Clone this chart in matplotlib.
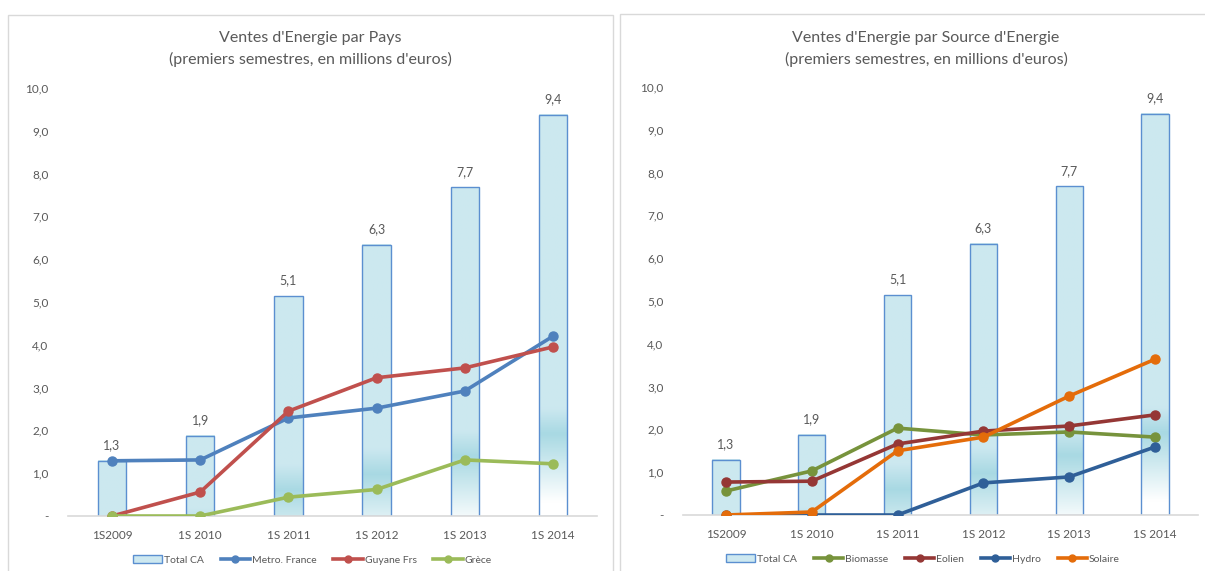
import numpy as np
import matplotlib.pyplot as plt
from matplotlib.patches import Rectangle
from matplotlib.lines import Line2D
from matplotlib.patches import Patch

plt.rcParams['font.family'] = ['Lato', 'DejaVu Sans']

# --- données ---
semestres = ['1S2009', '1S 2010', '1S 2011', '1S 2012', '1S 2013', '1S 2014']
total_ca = [1.29, 1.88, 5.14, 6.34, 7.68, 9.37]

# par pays
metro_france = [1.29, 1.31, 2.29, 2.52, 2.92, 4.20]
guyane_frs = [0.00, 0.56, 2.45, 3.23, 3.46, 3.95]
grece = [0.00, 0.00, 0.44, 0.62, 1.31, 1.22]

# par source d'énergie
biomasse = [0.56, 1.03, 2.03, 1.87, 1.94, 1.82]
eolien = [0.77, 0.79, 1.66, 1.96, 2.08, 2.34]
hydro = [0.00, 0.00, 0.00, 0.75, 0.89, 1.59]
solaire = [0.00, 0.07, 1.50, 1.82, 2.78, 3.64]

gris_texte = '#595959'
bleu_clair = np.array([0.80, 0.91, 0.94])
bleu_fonce = np.array([0.66, 0.85, 0.89])
blanc = np.array([1.0, 1.0, 1.0])


def barre_degrade(ax, x, h, w=0.32):
    # dégradé vertical façon Excel: bande plus foncée vers le bas, blanc au pied
    n = 200
    ys = np.linspace(0, h, n)
    b = 0.31 * h - 1.0
    cols = np.zeros((n, 3))
    for i, y in enumerate(ys):
        if y >= b:
            t = min((y - b) / 0.6, 1.0)
            cols[i] = bleu_fonce * (1 - t) + bleu_clair * t
        else:
            t = min((b - y) / 1.6, 1.0)
            cols[i] = bleu_fonce * (1 - t) + blanc * t
    img = cols[:, None, :]
    ax.imshow(img, extent=(x - w / 2, x + w / 2, 0, h), origin='lower',
              aspect='auto', zorder=1, interpolation='bilinear')
    ax.add_patch(Rectangle((x - w / 2, 0), w, h, facecolor='none',
                           edgecolor='#5b8fd0', lw=1.0, zorder=2))


def graphique(ax, titre, series, x_titre, x_legende):
    x = np.arange(len(semestres))
    for i, h in enumerate(total_ca):
        barre_degrade(ax, x[i], h)
        ax.text(x[i], h + 0.22, f'{h:.1f}'.replace('.', ','), ha='center',
                va='bottom', fontsize=9, color=gris_texte)
    handles = [Patch(facecolor='#cde8f0', edgecolor='#5b8fd0', label='Total CA')]
    for nom, vals, coul in series:
        ax.plot(x, vals, color=coul, lw=2.6, marker='o', ms=6.5, zorder=3)
        handles.append(Line2D([0], [0], color=coul, lw=2.6, marker='o', ms=5, label=nom))
    ax.set_xlim(-0.5, len(semestres) - 0.5)
    ax.set_ylim(0, 10)
    ax.set_xticks(x)
    ax.set_xticklabels(semestres)
    ax.set_yticks(np.arange(0, 11))
    ax.set_yticklabels(['-'] + [f'{v},0' for v in range(1, 11)])
    ax.tick_params(length=0, labelsize=8.5, colors=gris_texte, pad=10)
    ax.tick_params(axis='y', pad=14)
    for s in ['top', 'right', 'left']:
        ax.spines[s].set_visible(False)
    ax.spines['bottom'].set_color('#d9d9d9')
    ax.spines['bottom'].set_linewidth(1.2)
    fig.text(x_titre, 0.945, titre, ha='center', va='top', fontsize=11.5,
             color=gris_texte, linespacing=1.55)
    leg = ax.legend(handles=handles, loc='center', bbox_to_anchor=(x_legende, -0.103),
                    ncol=len(handles), frameon=False, fontsize=7.5, handlelength=2.8,
                    handleheight=0.8, handletextpad=0.2, columnspacing=1.6)
    for t in leg.get_texts():
        t.set_color(gris_texte)
    return leg


fig = plt.figure(figsize=(12.05, 5.71), dpi=100)

# cadres des deux graphiques
fig.patches.append(Rectangle((8 / 1205, -0.05), (613 - 8) / 1205, 1.05 - 15 / 571,
                             transform=fig.transFigure, facecolor='none',
                             edgecolor='#d9d9d9', lw=1.0))
fig.patches.append(Rectangle((620 / 1205, -0.05), 0.6, 1.05 - 14 / 571,
                             transform=fig.transFigure, facecolor='none',
                             edgecolor='#d9d9d9', lw=1.0))

ax1 = fig.add_axes([68 / 1205, 55 / 571, (597 - 68) / 1205, (483 - 55) / 571])
graphique(ax1, "Ventes d'Energie par Pays\n(premiers semestres, en millions d'euros)",
          [('Metro. France', metro_france, '#4f81bd'),
           ('Guyane Frs', guyane_frs, '#c0504d'),
           ('Grèce', grece, '#9bbb59')], 310 / 1205, 0.462)

ax2 = fig.add_axes([683 / 1205, 56 / 571, (1198 - 683) / 1205, (484 - 56) / 571])
graphique(ax2, "Ventes d'Energie par Source d'Energie\n(premiers semestres, en millions d'euros)",
          [('Biomasse', biomasse, '#77933c'),
           ('Eolien', eolien, '#953735'),
           ('Hydro', hydro, '#2f5f98'),
           ('Solaire', solaire, '#e46c0a')], 926 / 1205, 0.466)

fig.savefig('out.png', dpi=100)
